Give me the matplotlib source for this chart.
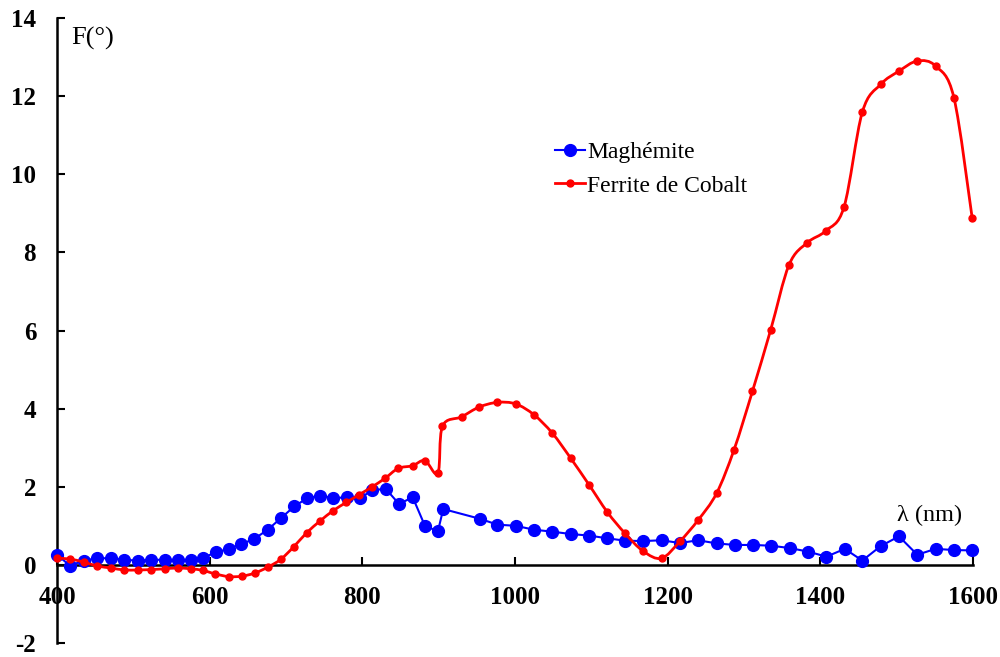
import numpy as np
import matplotlib
matplotlib.use("Agg")
import matplotlib.pyplot as plt
from matplotlib.path import Path
from matplotlib.patches import PathPatch
from matplotlib.lines import Line2D

# Maghémite
wl_mag = [400, 417, 435, 453, 471, 488, 506, 523, 541, 558,
          575, 591, 608, 625, 641, 658, 676, 693, 711, 728,
          745, 762, 780, 797, 813, 831, 848, 866, 882, 899,
          906, 954, 977, 1001, 1025, 1049, 1073, 1097, 1121, 1144,
          1168, 1192, 1216, 1240, 1264, 1288, 1312, 1336, 1360, 1384,
          1408, 1432, 1455, 1479, 1503, 1527, 1551, 1575, 1599]
f_mag = [0.26, -0.02, 0.11, 0.17, 0.17, 0.13, 0.11, 0.13, 0.13, 0.13,
         0.13, 0.18, 0.32, 0.41, 0.53, 0.66, 0.90, 1.19, 1.50, 1.71,
         1.77, 1.71, 1.73, 1.70, 1.92, 1.94, 1.56, 1.73, 1.00, 0.86,
         1.43, 1.18, 1.03, 1.00, 0.90, 0.85, 0.79, 0.75, 0.68, 0.62,
         0.61, 0.63, 0.56, 0.63, 0.55, 0.51, 0.51, 0.49, 0.43, 0.34,
         0.21, 0.41, 0.11, 0.48, 0.73, 0.26, 0.41, 0.38, 0.37]

# Ferrite de Cobalt
wl_cof = [400, 417, 435, 453, 471, 488, 506, 523, 541, 558,
          575, 591, 607, 625, 642, 659, 676, 693, 710, 727,
          745, 762, 779, 796, 813, 830, 847, 866, 882, 899,
          905, 930, 953, 977, 1001, 1025, 1049, 1073, 1097, 1121,
          1144, 1168, 1192, 1216, 1240, 1264, 1287, 1311, 1335, 1359,
          1383, 1407, 1431, 1455, 1479, 1503, 1527, 1551, 1575, 1599]
f_cof = [0.17, 0.15, 0.07, -0.03, -0.08, -0.13, -0.13, -0.12, -0.10, -0.08,
         -0.10, -0.14, -0.23, -0.30, -0.29, -0.21, -0.06, 0.14, 0.46, 0.82,
         1.13, 1.39, 1.60, 1.80, 2.00, 2.22, 2.47, 2.54, 2.67, 2.35,
         3.55, 3.79, 4.04, 4.16, 4.12, 3.84, 3.37, 2.73, 2.05, 1.35,
         0.81, 0.35, 0.17, 0.60, 1.15, 1.83, 2.95, 4.44, 6.02, 7.68,
         8.25, 8.55, 9.16, 11.59, 12.30, 12.64, 12.90, 12.77, 11.96, 8.87]

x_ticks = [400, 600, 800, 1000, 1200, 1400, 1600]
y_ticks = [-2, 0, 2, 4, 6, 8, 10, 12, 14]

plt.rcParams['font.family'] = ['Liberation Serif', 'DejaVu Serif']
plt.rcParams['axes.unicode_minus'] = False


def smooth_path(x, y):
    # courbe lissée façon Excel (Bezier, Catmull-Rom)
    p = np.column_stack([x, y]).astype(float)
    verts = [p[0]]
    codes = [Path.MOVETO]
    n = len(p)
    for i in range(n - 1):
        p0 = p[i - 1] if i > 0 else p[i]
        p3 = p[i + 2] if i + 2 < n else p[i + 1]
        c1 = p[i] + (p[i + 1] - p0) / 6.0
        c2 = p[i + 1] - (p3 - p[i]) / 6.0
        verts += [c1, c2, p[i + 1]]
        codes += [Path.CURVE4] * 3
    return Path(verts, codes)


fig = plt.figure(figsize=(10, 6.57), dpi=100)
ax = fig.add_axes([0.057, 0.0213, 0.916, 0.9513])

blue = '#0000FF'
red = '#FF0000'

ax.plot(wl_mag, f_mag, '-o', color=blue, lw=1.5, ms=8.5, zorder=3,
        clip_on=False)

ax.add_patch(PathPatch(smooth_path(wl_cof, f_cof), fill=False,
                       edgecolor=red, lw=2.0, zorder=4, clip_on=False))
ax.plot(wl_cof, f_cof, 'o', color=red, ms=5, zorder=5, clip_on=False)

ax.set_xlim(400, 1600)
ax.set_ylim(-2, 14)
ax.set_xticks(x_ticks)
ax.set_yticks(y_ticks)

for s in ['top', 'right']:
    ax.spines[s].set_visible(False)
ax.spines['bottom'].set_position(('data', 0))
for s in ['bottom', 'left']:
    ax.spines[s].set_linewidth(1.8)
    ax.spines[s].set_zorder(2)

ax.tick_params(axis='both', direction='in', length=5.5, width=1.5,
               labelsize=18)
ax.tick_params(axis='x', pad=15)
ax.tick_params(axis='y', pad=15)
for lab in ax.get_xticklabels() + ax.get_yticklabels():
    lab.set_fontweight('bold')

ax.text(0.016, 0.985, 'F(°)', transform=ax.transAxes, fontsize=19,
        ha='left', va='top')
ax.text(1586, 1.0, 'λ (nm)', fontsize=17.5, ha='right', va='bottom')

handles = [
    Line2D([], [], color=blue, lw=1.5, marker='o', ms=8.5),
    Line2D([], [], color=red, lw=2.0, marker='o', ms=5),
]
ax.legend(handles, ['Maghémite', 'Ferrite de Cobalt'], frameon=False,
          fontsize=17, loc='upper left', bbox_to_anchor=(0.533, 0.817),
          handlelength=1.27, handletextpad=0.1, labelspacing=0.5,
          borderaxespad=0.0)

fig.savefig('out.png', dpi=100)
